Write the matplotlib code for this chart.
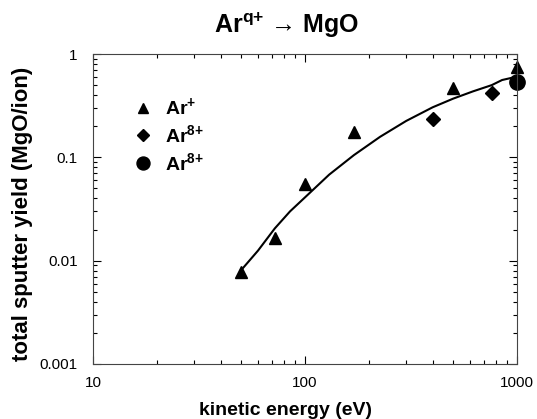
import numpy as np
import matplotlib.pyplot as plt

plt.rcParams['font.family'] = ['Liberation Sans', 'DejaVu Sans']
plt.rcParams['mathtext.fontset'] = 'custom'
plt.rcParams['mathtext.rm'] = 'Liberation Sans:bold'
plt.rcParams['mathtext.bf'] = 'Liberation Sans:bold'
plt.rcParams['mathtext.default'] = 'bf'

# Ar+ (triangles)
e_ar1 = [50, 72, 100, 170, 500, 1000]
y_ar1 = [0.0078, 0.0167, 0.055, 0.177, 0.47, 0.75]
# Ar8+ (diamonds)
e_ar8 = [400, 760]
y_ar8 = [0.235, 0.415]
# Ar8+ (circle)
e_ar8c = [1000]
y_ar8c = [0.54]
# fitted curve
e_fit = [50, 60, 72, 85, 100, 130, 170, 226, 300, 400, 500, 620, 760, 850, 950, 1000]
y_fit = [0.0081, 0.0125, 0.0205, 0.030, 0.041, 0.068, 0.105, 0.158, 0.225, 0.305, 0.37, 0.435, 0.50, 0.56, 0.59, 0.60]

fig = plt.figure(figsize=(5.37, 4.19), dpi=100)
ax = fig.add_axes([0.1732, 0.1313, 0.7896, 0.7398])

ax.plot(e_fit, y_fit, color='black', lw=1.5)
ax.plot(e_ar1, y_ar1, '^', color='black', ms=9, label=r'Ar$^{\text{+}}$', clip_on=False)
ax.plot(e_ar8, y_ar8, 'D', color='black', ms=7, label=r'Ar$^{\text{8+}}$', clip_on=False)
ax.plot(e_ar8c, y_ar8c, 'o', color='black', ms=11, label=r'Ar$^{\text{8+}}$', clip_on=False)

ax.set_xscale('log')
ax.set_yscale('log')
ax.set_xlim(10, 1000)
ax.set_ylim(0.001, 1)
ax.set_xticks([10, 100, 1000])
ax.set_xticklabels(['10', '100', '1000'])
ax.set_yticks([0.001, 0.01, 0.1, 1])
ax.set_yticklabels(['0.001', '0.01', '0.1', '1'])
ax.tick_params(which='both', direction='in', top=True, right=True, labelsize=11, width=0.8)
ax.tick_params(which='major', length=6)
ax.tick_params(axis='y', which='major', pad=11)
ax.tick_params(axis='x', which='major', pad=9)
ax.tick_params(which='minor', length=3)
for s in ax.spines.values():
    s.set_linewidth(0.8)
    s.set_color('#444444')

ax.set_xlabel('kinetic energy (eV)', fontsize=14, fontweight='bold')
ax.xaxis.set_label_coords(0.453, -0.124)
ax.set_ylabel('total sputter yield (MgO/ion)', fontsize=16, fontweight='bold')
ax.yaxis.set_label_coords(-0.142, 0.484)
fig.text(0.533, 0.922, 'Ar$^{\\text{q+}}$ \u2192 MgO', fontsize=18, fontweight='bold',
         ha='center', va='baseline')

ax.legend(loc='upper left', bbox_to_anchor=(0.048, 0.92), frameon=False,
          prop={'weight': 'bold', 'size': 14}, handletextpad=0.55, labelspacing=0.3,
          handlelength=1.2, markerscale=0.85)

fig.savefig('out.png', dpi=100)
